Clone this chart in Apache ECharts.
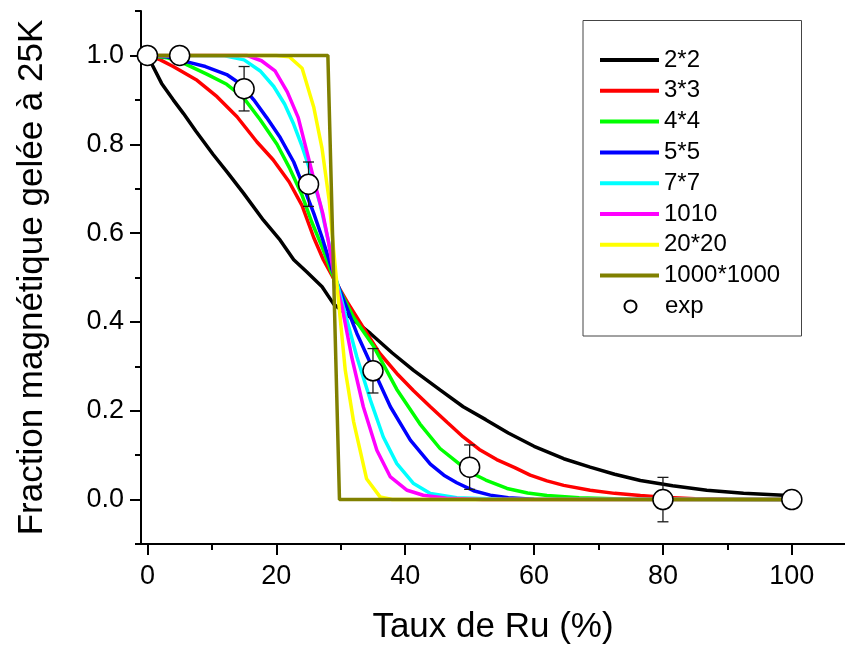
<!DOCTYPE html>
<html><head><meta charset="utf-8">
<script src="https://cdn.jsdelivr.net/npm/echarts@6/dist/echarts.min.js"></script>
<style>html,body{margin:0;padding:0;background:#fff}#c{width:845px;height:646px}</style>
</head><body><div id="c"></div>
<script>
// ---------- data ----------
const seriesNames = ['2*2','3*3','4*4','5*5','7*7','1010','20*20','1000*1000'];
const seriesColors = ['#000000','#ff0000','#00ff00','#0000ff','#00ffff','#ff00ff','#ffff00','#808000'];

const x2 = [0,2.2,4,5.6,7.5,10.2,12.5,14.9,18,20.6,22.7,24.7,27.1,28.9,31.5,34.6,38,41.3,45.4,49,52.5,56,60,64.6,68.7,72.5,76.5,81.5,86.8,92.5,98.7,100];
const y2 = [1,0.937,0.9,0.869,0.83,0.777,0.735,0.69,0.629,0.584,0.54,0.513,0.479,0.44,0.41,0.374,0.33,0.291,0.247,0.209,0.18,0.15,0.12,0.092,0.073,0.057,0.043,0.031,0.021,0.014,0.0095,0.008];

const x3 = [0,2,4,7.7,10.8,13.9,17,19.5,22,24,25.8,27.3,28.8,31,33.5,36,38.7,41.3,43.9,46.5,49,51.5,54.2,57,59.4,62,64.6,68.7,72.5,76.5,80,85,90,100];
const y3 = [1,0.99,0.975,0.944,0.907,0.862,0.805,0.765,0.715,0.662,0.59,0.54,0.5,0.445,0.387,0.33,0.284,0.245,0.209,0.174,0.141,0.113,0.09,0.072,0.055,0.042,0.032,0.021,0.014,0.009,0.005,0.002,0.001,0];

const x4 = [0,3,6,9.2,12.3,14.9,17.5,20.1,22.1,24,25.5,27.1,28.6,29.9,32,35.1,38.7,42.3,45.4,48,50,52.5,55.8,59,62,67,75,100];
const y4 = [1,0.995,0.98,0.958,0.935,0.905,0.855,0.8,0.745,0.685,0.625,0.569,0.51,0.47,0.41,0.345,0.248,0.17,0.115,0.085,0.062,0.044,0.025,0.015,0.009,0.004,0.001,0];

const x5 = [0,3,6,9,12.3,14.5,16.5,18.5,20.6,22.7,24.2,25.8,27.1,28.6,29.9,32.5,35.1,37.7,40.8,43.9,46,48,50.6,53.2,56,60,100];
const y5 = [1,0.997,0.986,0.975,0.957,0.935,0.9,0.86,0.815,0.76,0.705,0.645,0.59,0.52,0.47,0.374,0.291,0.209,0.134,0.08,0.055,0.038,0.02,0.01,0.004,0.001,0];

const x7 = [0,12,15,17.5,19.6,21.3,22.7,24,25.5,26.8,28.1,29.2,30.4,32.5,34.6,36.6,38.7,41.3,43.9,48,55,100];
const y7 = [1,0.999,0.99,0.965,0.93,0.89,0.845,0.795,0.73,0.665,0.58,0.5,0.434,0.321,0.224,0.141,0.081,0.036,0.0135,0.004,0.001,0];

const x10 = [0,15.4,17.7,19.8,21.7,23.4,24.8,26.1,27.2,28.1,29,30.2,31.7,33.5,35.6,37.7,40.3,42.8,46.4,52,100];
const y10 = [1,1,0.988,0.965,0.918,0.86,0.78,0.705,0.645,0.58,0.5,0.434,0.321,0.209,0.111,0.051,0.021,0.0097,0.003,0,0];

const x20 = [0,20,22,24,25.8,27.1,28.2,28.9,29.6,30.7,32,34,36.1,38,100];
const y20 = [1,1,0.997,0.971,0.884,0.79,0.674,0.561,0.455,0.291,0.175,0.047,0.006,0,0];

const x1000 = [0,28,29.8,100];
const y1000 = [1,1,0,0];

const expX = [0,5,15,25,35,50,80,100];
const expY = [1,1,0.925,0.71,0.29,0.073,0,0];
const expErr = [0,0,0.05,0.05,0.05,0.05,0.05,0];

const xTickLabels = [0,20,40,60,80,100];
const xMinorTicks = [10,30,50,70,90];
const yTickLabels = [0,0.2,0.4,0.6,0.8,1.0];
const yMinorTicks = [-0.1,0.1,0.3,0.5,0.7,0.9,1.1];

// ---------- build ----------
const FONT = "'Liberation Sans', Arial, Helvetica, sans-serif";
const curvesX = [x2,x3,x4,x5,x7,x10,x20,x1000];
const curvesY = [y2,y3,y4,y5,y7,y10,y20,y1000];
const pairs = (xs, ys) => xs.map((x,i) => [x, ys[i]]);

const X_MIN = -1, X_MAX = 108.25, Y_MIN = -0.1, Y_MAX = 1.1;
const gridBox = {left:141, top:11, width:704, height:533, outerBoundsMode:'none', containLabel:false};

const series = seriesNames.map((n,i) => ({
  name:n, type:'line', xAxisIndex:0, yAxisIndex:0,
  data: pairs(curvesX[i], curvesY[i]),
  symbol:'none', showSymbol:false, smooth:false,
  lineStyle:{color:seriesColors[i], width:3.5},
  itemStyle:{color:seriesColors[i]},
  z: 2 + i, animation:false
}));

series.push({
  name:'errbars', type:'custom', xAxisIndex:0, yAxisIndex:0,
  data: expX.map((x,i) => [x, expY[i], expErr[i]]),
  encode:{x:0, y:1},
  z: 20, silent:true, animation:false,
  renderItem: function(params, api){
    const x = api.value(0), y = api.value(1), e = api.value(2);
    if (!e) return null;
    const t = api.coord([x, y + e]), b = api.coord([x, y - e]);
    const hw = 5.5, st = {stroke:'#1a1a1a', lineWidth:1.3};
    return {type:'group', children:[
      {type:'line', shape:{x1:t[0], y1:t[1], x2:b[0], y2:b[1]}, style:st},
      {type:'line', shape:{x1:t[0]-hw, y1:t[1], x2:t[0]+hw, y2:t[1]}, style:st},
      {type:'line', shape:{x1:b[0]-hw, y1:b[1], x2:b[0]+hw, y2:b[1]}, style:st}
    ]};
  }
});

series.push({
  name:'exp', type:'scatter', xAxisIndex:0, yAxisIndex:0,
  data: pairs(expX, expY),
  symbol:'circle', symbolSize:20,
  itemStyle:{color:'#ffffff', borderColor:'#000000', borderWidth:1.5, opacity:1},
  z: 30, animation:false
});

const axisLineStyle = {color:'#000', width:2};
const labelStyle = {fontFamily:FONT, fontSize:27, color:'#000'};
const legendText = {fontFamily:FONT, fontSize:24, color:'#000', lineHeight:24};
const ROW = 30.8, LEG_TOP = 48, LEG_LEFT = 600, ICON_W = 59, CIRCLE = 12;

const option = {
  animation:false,
  backgroundColor:'#ffffff',
  grid:[Object.assign({}, gridBox), Object.assign({}, gridBox)],
  xAxis:[
    {type:'value', gridIndex:0, min:X_MIN, max:X_MAX, position:'bottom',
     axisLine:{show:true, onZero:false, lineStyle:axisLineStyle},
     axisTick:{show:true, inside:false, length:11, customValues:xTickLabels, lineStyle:{color:'#000', width:2}},
     axisLabel:{show:true, customValues:xTickLabels, margin:19, ...labelStyle},
     splitLine:{show:false}, minorTick:{show:false},
     name:'Taux de Ru (%)', nameLocation:'middle', nameGap:66,
     nameTextStyle:{fontFamily:FONT, fontSize:35, color:'#000'}},
    {type:'value', gridIndex:1, min:X_MIN, max:X_MAX, position:'bottom',
     axisLine:{show:false, onZero:false},
     axisTick:{show:true, inside:false, length:6, customValues:xMinorTicks, lineStyle:{color:'#000', width:2}},
     axisLabel:{show:false}, splitLine:{show:false}}
  ],
  yAxis:[
    {type:'value', gridIndex:0, min:Y_MIN, max:Y_MAX, position:'left',
     axisLine:{show:true, onZero:false, lineStyle:axisLineStyle},
     axisTick:{show:true, inside:false, length:11, customValues:yTickLabels, lineStyle:{color:'#000', width:2}},
     axisLabel:{show:true, customValues:yTickLabels, margin:17, formatter:v => Number(v).toFixed(1), ...labelStyle},
     splitLine:{show:false}, minorTick:{show:false},
     name:'Fraction magnétique gelée à 25K', nameLocation:'middle', nameGap:91.5, nameRotate:90,
     nameTextStyle:{fontFamily:FONT, fontSize:35, color:'#000'}},
    {type:'value', gridIndex:1, min:Y_MIN, max:Y_MAX, position:'left',
     axisLine:{show:false, onZero:false},
     axisTick:{show:true, inside:false, length:6, customValues:yMinorTicks, lineStyle:{color:'#000', width:2}},
     axisLabel:{show:false}, splitLine:{show:false}}
  ],
  legend:[
    {
      data: seriesNames,
      orient:'vertical', left:LEG_LEFT, top:LEG_TOP,
      icon:'rect', itemWidth:ICON_W, itemHeight:4, itemGap:ROW - 24, padding:0,
      selectedMode:false, textStyle:legendText
    },
    {
      data: ['exp'],
      orient:'vertical', left:LEG_LEFT + (ICON_W - CIRCLE) / 2, top:LEG_TOP + 8 * ROW,
      icon:'circle', itemWidth:CIRCLE, itemHeight:CIRCLE, itemGap:0, padding:0,
      selectedMode:false,
      textStyle:Object.assign({}, legendText, {padding:[0, 0, 0, (ICON_W - CIRCLE) / 2]})
    }
  ],
  graphic:[{
    type:'rect', left:582.5, top:20, z:0, silent:true,
    shape:{width:218.5, height:315.5},
    style:{fill:'rgba(0,0,0,0)', stroke:'#444', lineWidth:1}
  }],
  series: series
};

const chart = echarts.init(document.getElementById('c'), null, {renderer:'canvas'});
chart.setOption(option);
</script></body></html>
